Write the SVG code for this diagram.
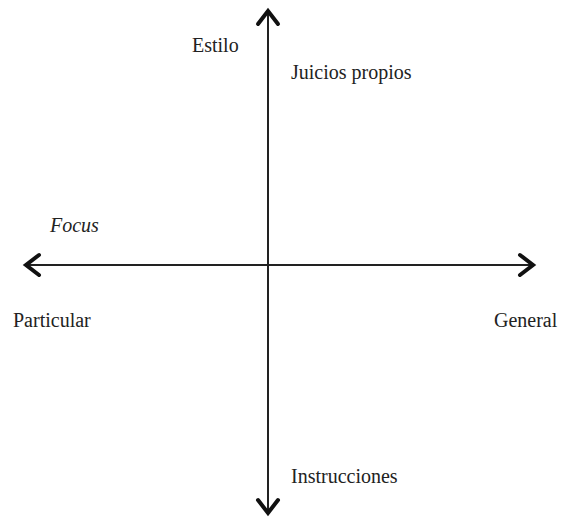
<svg xmlns="http://www.w3.org/2000/svg" width="561" height="523" viewBox="0 0 561 523">
<style>
.ax{stroke:#222;stroke-width:2;fill:none}
.hd{stroke:#111;stroke-width:4;fill:none;stroke-linecap:round;stroke-linejoin:miter}
.t{font-family:"Liberation Serif","Times New Roman",serif;font-size:20px;fill:#222}
</style>
<rect width="561" height="523" fill="#fff"/>
<g id="connectors">
<line class="ax" x1="268" y1="11" x2="268" y2="513"/>
<line class="ax" x1="26" y1="265" x2="533" y2="265"/>
<polyline class="hd" points="258,24 268,11 278,24"/>
<polyline class="hd" points="258,500 268,513 278,500"/>
<polyline class="hd" points="39,255 26,265 39,275"/>
<polyline class="hd" points="520,255 533,265 520,275"/>
</g>
<g id="estilo"><text class="t" x="192" y="52">Estilo</text></g>
<g id="juicios"><text class="t" x="291" y="79">Juicios propios</text></g>
<g id="focus"><text class="t" x="50" y="232" font-style="italic">Focus</text></g>
<g id="particular"><text class="t" x="13" y="327">Particular</text></g>
<g id="general"><text class="t" x="494" y="327">General</text></g>
<g id="instrucciones"><text class="t" x="291" y="483">Instrucciones</text></g>
</svg>
